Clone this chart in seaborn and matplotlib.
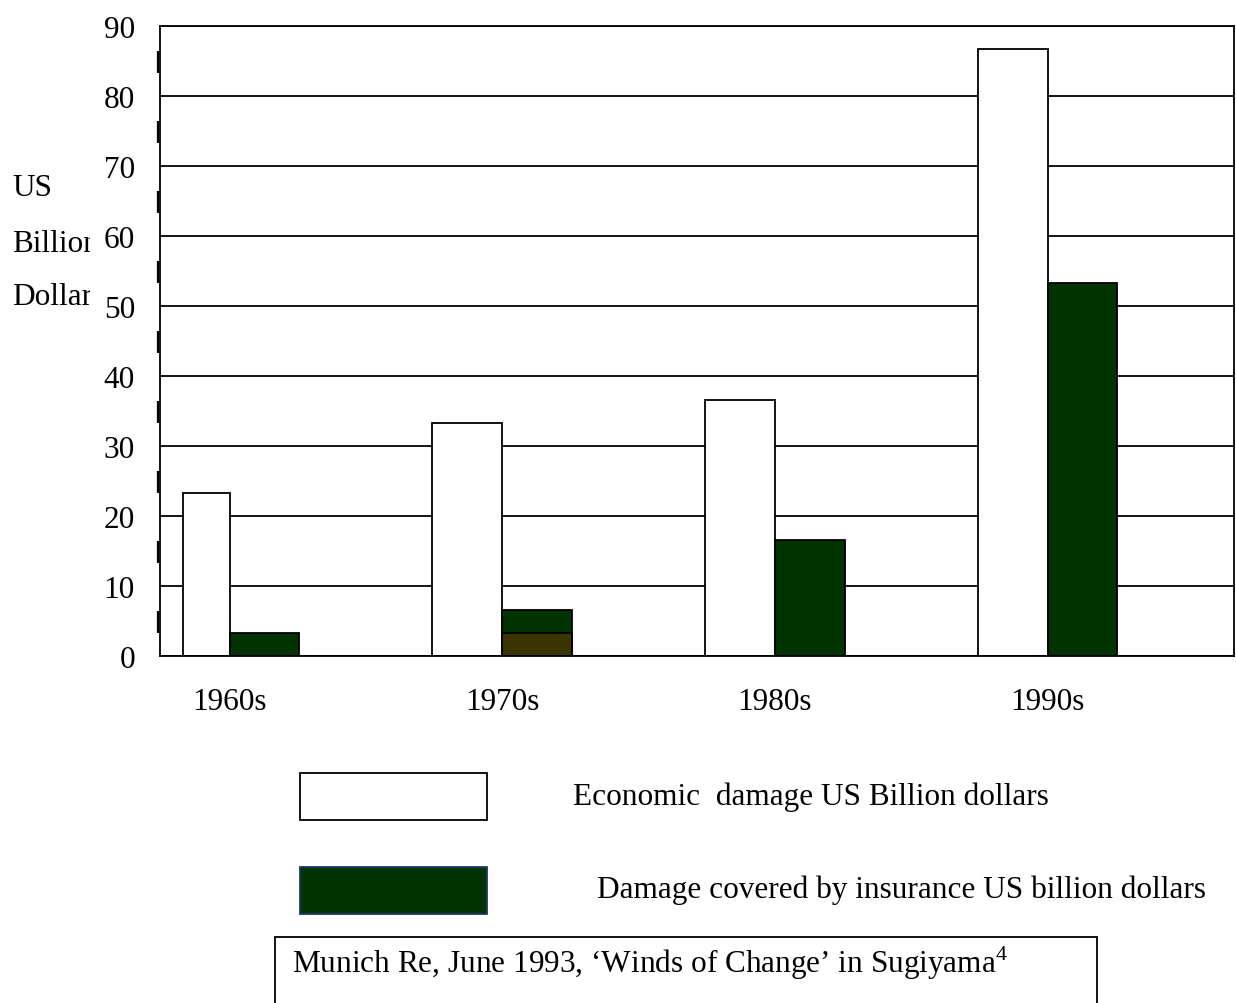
import matplotlib
matplotlib.use("Agg")
import matplotlib.pyplot as plt
import seaborn as sns
import pandas as pd
from matplotlib.patches import Rectangle
from matplotlib.transforms import Bbox, TransformedBbox

# data
decades = ["1960s", "1970s", "1980s", "1990s"]
economic = [23.3, 33.3, 36.6, 86.7]
insured = [3.3, 6.6, 16.6, 53.3]
insured_lower = [0, 3.3, 0, 0]   # darker lower part of the 1970s insurance bar
y_ticks = [0, 10, 20, 30, 40, 50, 60, 70, 80, 90]

econ_label = "Economic  damage US Billion dollars"
ins_label = "Damage covered by insurance US billion dollars"
ylabel_lines = ["US", "Billion", "Dollars"]
source = "Munich Re, June 1993, \u2018Winds of Change\u2019 in Sugiyama$^{4}$"

green = "#023302"
olive = "#3a3400"

sns.set_theme(style="white")
plt.rcParams["font.family"] = ["Liberation Serif", "DejaVu Serif"]
plt.rcParams["text.color"] = "black"
plt.rcParams["mathtext.fontset"] = "custom"
plt.rcParams["mathtext.rm"] = "Liberation Serif"
plt.rcParams["lines.scale_dashes"] = False

FS = 22.5
W, H = 1236, 1004
fig = plt.figure(figsize=(W / 100, H / 100), dpi=100)
fig.patch.set_facecolor("white")
ax = fig.add_axes([160 / W, 1 - 657 / H, (1234 - 160) / W, (657 - 27) / H])

df = pd.DataFrame({
    "decade": decades * 2,
    "value": economic + insured,
    "series": [econ_label] * 4 + [ins_label] * 4,
})
sns.barplot(data=df, x="decade", y="value", hue="series",
            hue_order=[econ_label, ins_label], palette=["white", green],
            width=0.513, saturation=1, edgecolor="black", linewidth=1.3,
            legend=False, ax=ax)

df2 = pd.DataFrame({
    "decade": decades * 2,
    "value": [0] * 4 + insured_lower,
    "series": [econ_label] * 4 + [ins_label] * 4,
})
sns.barplot(data=df2, x="decade", y="value", hue="series",
            hue_order=[econ_label, ins_label], palette=["white", olive],
            width=0.513, saturation=1, edgecolor="black", linewidth=1.3,
            legend=False, ax=ax)

# the 1960s white bar is drawn narrower in the original
p = ax.containers[0][0]
right = p.get_x() + p.get_width()
p.set_width(p.get_width() * 0.67)
p.set_x(right - p.get_width())

ax.set_xlim(-0.255, 3.684)
ax.set_ylim(0, 90)
ax.set_yticks(y_ticks)
ax.yaxis.grid(True, color="black", linewidth=1.3)
ax.set_axisbelow(True)
ax.set_xlabel("")
ax.set_ylabel("")
ax.tick_params(axis="both", length=0, labelsize=FS, colors="black")
ax.tick_params(axis="x", pad=22)
ax.tick_params(axis="y", pad=18)
for s in ax.spines.values():
    s.set_color("black")
    s.set_linewidth(1.3)

# dashed thickening along the left axis
ax.plot([-0.0018, -0.0018], [0, 1], transform=ax.transAxes, color="black",
        lw=1.6, linestyle=(33.8, (15.8, 34.6)), clip_on=False)

# y label, clipped by the tick label area like the original
clip = TransformedBbox(Bbox([[0, 0], [90 / W, 1]]), fig.transFigure)
for txt, yy in zip(ylabel_lines, [188, 245, 298]):
    t = fig.text(12 / W, 1 - yy / H, txt, va="center", ha="left", size=FS)
    t.set_clip_box(clip)
    t.set_clip_on(True)

# legend
fig.add_artist(Rectangle((300 / W, 1 - 821 / H), 187 / W, 47 / H,
                         transform=fig.transFigure, facecolor="white",
                         edgecolor="black", lw=1.3))
fig.add_artist(Rectangle((300 / W, 1 - 915 / H), 187 / W, 47 / H,
                         transform=fig.transFigure, facecolor=green,
                         edgecolor="#1f3864", lw=1.3))
fig.text(573 / W, 1 - 797 / H, econ_label, va="center", ha="left", size=FS)
fig.text(597 / W, 1 - 890 / H, ins_label, va="center", ha="left", size=FS)

# source box
fig.add_artist(Rectangle((275 / W, -0.05), (1097 - 275) / W, 0.05 + 1 - 938 / H,
                         transform=fig.transFigure, facecolor="none",
                         edgecolor="black", lw=1.3, clip_on=False))
fig.text(292 / W, 1 - 963 / H, source, va="center", ha="left", size=FS)

fig.savefig("out.png", dpi=100)
